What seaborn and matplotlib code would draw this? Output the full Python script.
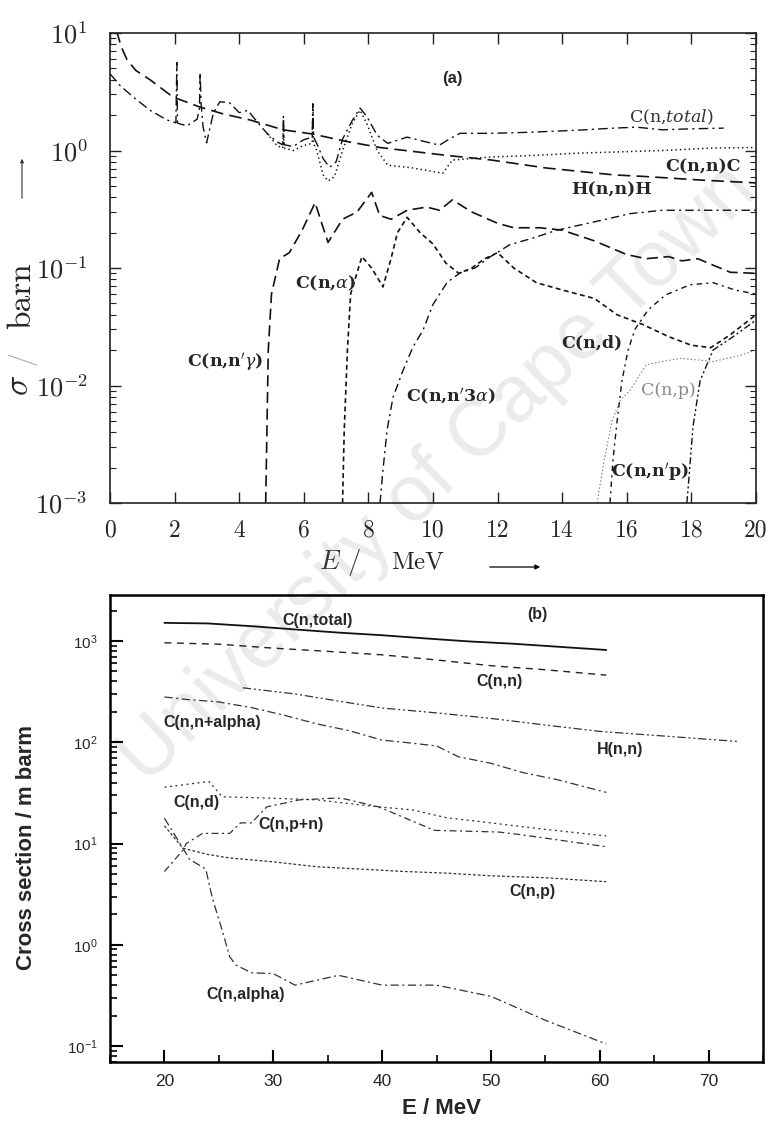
import numpy as np
import matplotlib
matplotlib.use("Agg")
import matplotlib.pyplot as plt
import seaborn as sns
from matplotlib.ticker import LogLocator, NullFormatter, NullLocator, MultipleLocator

# ---------------- panel (a): 0-20 MeV, cross sections in barn ----------------
tot_E = [0.0, 0.3, 0.72, 1.24, 1.76, 2.04, 2.07, 2.09, 2.12, 2.38, 2.7, 2.77, 2.79, 2.82,
         2.88, 2.99, 3.2, 3.4, 3.7, 4.0, 4.27, 4.43, 4.86, 5.17, 5.35, 5.37, 5.39, 5.67,
         5.98, 6.26, 6.28, 6.30, 6.4, 6.6, 6.8, 7.0, 7.2, 7.5, 7.74, 7.95, 8.27, 8.6,
         9.2, 9.7, 10.2, 10.5, 10.84, 11.8, 13.0, 14.5, 15.6, 16.3, 17.1, 18.0, 19.0]
tot_s = [4.5, 3.6, 2.85, 2.2, 1.82, 1.72, 5.6, 1.72, 1.7, 1.62, 1.85, 2.3, 4.6, 2.5,
         1.6, 1.16, 2.08, 2.6, 2.55, 2.1, 2.2, 1.93, 1.4, 1.18, 1.12, 1.95, 1.12, 1.08,
         1.23, 1.3, 2.5, 1.3, 1.15, 0.85, 0.72, 0.8, 1.25, 1.8, 2.3, 1.95, 1.35, 1.15,
         1.3, 1.2, 1.11, 1.25, 1.4, 1.4, 1.43, 1.49, 1.55, 1.58, 1.5, 1.53, 1.55]

el_E = [4.86, 5.17, 5.35, 5.37, 5.39, 5.67, 5.98, 6.26, 6.28, 6.30, 6.4, 6.6, 6.75,
        6.95, 7.2, 7.5, 7.74, 7.95, 8.27, 8.6, 9.38, 10.3, 10.6, 11.8, 13.2, 14.5,
        15.6, 17.1, 18.7, 20.0]
el_s = [1.4, 1.1, 1.05, 1.85, 1.05, 1.0, 1.1, 1.15, 2.3, 1.15, 1.0, 0.62, 0.55,
        0.6, 1.0, 1.7, 2.2, 1.7, 1.0, 0.75, 0.71, 0.64, 0.83, 0.88, 0.91, 0.95,
        0.97, 1.0, 1.05, 1.06]

hh_E = [0.2, 0.35, 0.53, 0.8, 1.24, 1.95, 2.79, 3.5, 4.33, 5.36, 6.28, 7.28, 8.36,
        10.4, 11.8, 13.5, 15.6, 16.6, 18.3, 20.0]
hh_s = [10.5, 7.6, 5.9, 4.8, 4.0, 2.85, 2.34, 2.05, 1.82, 1.5, 1.38, 1.2, 1.06,
        0.91, 0.83, 0.71, 0.62, 0.60, 0.56, 0.53]

ng_E = [4.82, 4.85, 4.9, 5.0, 5.25, 5.55, 5.95, 6.35, 6.6, 6.75, 7.2, 7.65, 8.1, 8.35,
        8.7, 9.2, 9.8, 10.2, 10.6, 11.2, 12.0, 12.5, 13.3, 14.0, 15.0, 16.0, 16.6,
        17.3, 17.7, 18.2, 18.7, 19.2, 20.0]
ng_s = [1e-3, 3e-3, 0.02, 0.06, 0.12, 0.135, 0.21, 0.36, 0.22, 0.165, 0.26, 0.30,
        0.44, 0.28, 0.26, 0.31, 0.33, 0.31, 0.38, 0.30, 0.24, 0.22, 0.22, 0.21, 0.17,
        0.13, 0.12, 0.125, 0.115, 0.12, 0.105, 0.092, 0.09]

na_E = [7.2, 7.25, 7.35, 7.45, 7.8, 8.1, 8.45, 8.7, 8.9, 9.2, 9.6, 10.0, 10.4, 10.8,
        11.2, 11.6, 12.0, 12.5, 13.2, 14.0, 15.0, 15.7, 16.5, 17.3, 18.0, 18.6, 19.2, 20.0]
na_s = [1e-3, 0.004, 0.02, 0.06, 0.125, 0.1, 0.069, 0.12, 0.2, 0.27, 0.2, 0.16, 0.11,
        0.09, 0.1, 0.12, 0.135, 0.1, 0.075, 0.065, 0.055, 0.04, 0.033, 0.026, 0.022,
        0.021, 0.027, 0.04]

n3a_E = [8.36, 8.45, 8.58, 8.76, 9.07, 9.38, 9.69, 10.0, 10.43, 10.84, 11.3, 11.76,
         12.38, 13.1, 13.84, 15.08, 16.1, 17.1, 18.5, 20.0]
n3a_s = [1e-3, 0.0019, 0.0042, 0.0079, 0.0134, 0.0213, 0.0295, 0.049, 0.075, 0.091,
         0.1, 0.124, 0.158, 0.18, 0.21, 0.25, 0.29, 0.31, 0.31, 0.31]

nd_E = [15.48, 15.57, 15.7, 15.85, 16.04, 16.25, 16.66, 17.2, 17.96, 18.67, 19.35, 20.0]
nd_s = [1e-3, 0.0023, 0.005, 0.011, 0.02, 0.03, 0.044, 0.059, 0.072, 0.075, 0.065, 0.06]

np_E = [15.08, 15.3, 15.54, 15.8, 16.1, 16.6, 17.1, 17.65, 18.2, 18.67, 19.5, 20.0]
np_s = [1e-3, 0.0023, 0.005, 0.0075, 0.0091, 0.015, 0.016, 0.017, 0.0165, 0.016,
        0.018, 0.02]

nnp_E = [17.86, 17.95, 18.05, 18.27, 18.67, 19.2, 19.6, 20.0]
nnp_s = [1e-3, 0.002, 0.0045, 0.011, 0.02, 0.025, 0.03, 0.036]

a_xticks = [0, 2, 4, 6, 8, 10, 12, 14, 16, 18, 20]
a_yticks = [1e-3, 1e-2, 1e-1, 1e0, 1e1]
a_ylabels = [r"$10^{-3}$", r"$10^{-2}$", r"$10^{-1}$", r"$10^{0}$", r"$10^{1}$"]

# ---------------- panel (b): 20-75 MeV, cross sections in mb ----------------
bt_E = [20, 24, 28, 32, 36, 40, 44, 48, 52, 56, 60.6]
bt_s = [1510, 1490, 1400, 1300, 1210, 1140, 1060, 990, 940, 880, 815]

bn_E = [20, 25, 30, 35, 40, 45, 50, 55, 60.6]
bn_s = [960, 930, 850, 790, 730, 650, 570, 520, 460]

bh_E = [27.2, 32, 36, 40, 45, 50, 55, 60, 66, 72.6]
bh_s = [345, 300, 255, 218, 195, 172, 148, 128, 115, 102]

bna_E = [20, 22, 25, 28, 31, 34, 37, 40, 42, 45, 47, 50, 53, 56, 60.6]
bna_s = [280, 265, 250, 220, 185, 152, 130, 105, 100, 92, 72, 62, 50, 43, 32]

bd_E = [20, 24.1, 25.3, 30, 34, 39.7, 42.8, 45.9, 50, 55, 60.6]
bd_s = [36, 41, 29, 28, 27, 23, 21.5, 18, 16, 13.8, 11.9]

bpn_E = [20, 21.7, 22, 23.5, 26, 27, 28, 29.4, 32.4, 35.4, 36.3, 39.7, 44.8, 50.7, 52.6, 60.6]
bpn_s = [5.3, 8.6, 10, 12.6, 12.6, 16, 16, 23, 27, 28, 28, 23, 13.5, 13, 12.3, 9.3]

bp_E = [20, 21.7, 24, 26, 30, 34, 38, 42, 46, 50, 55, 60.6]
bp_s = [15, 9, 7.8, 7.2, 6.6, 5.9, 5.6, 5.3, 5.1, 4.8, 4.6, 4.2]

bal_E = [20, 21.7, 22.3, 23.8, 24.4, 25.3, 26, 26.6, 28, 30, 32, 36, 40, 45, 50, 55, 60.6]
bal_s = [17.8, 9.0, 7.0, 5.6, 2.9, 1.4, 0.76, 0.63, 0.53, 0.52, 0.4, 0.5, 0.4, 0.4,
         0.31, 0.18, 0.105]

b_xticks = [20, 30, 40, 50, 60, 70]
b_yticks = [1e-1, 1e0, 1e1, 1e2, 1e3]
b_ylabels = [r"$10^{-1}$", r"$10^{0}$", r"$10^{1}$", r"$10^{2}$", r"$10^{3}$"]

# ---------------- style ----------------
sns.set_style("ticks")
plt.rcParams["font.family"] = ["DejaVu Serif", "DejaVu Sans"]
plt.rcParams["mathtext.fontset"] = "custom"
plt.rcParams["mathtext.rm"] = "Liberation Sans"
plt.rcParams["mathtext.it"] = "Liberation Sans:italic"
plt.rcParams["mathtext.bf"] = "Liberation Sans:bold"
plt.rcParams["lines.scale_dashes"] = False
plt.rcParams["axes.unicode_minus"] = False

W, H = 772, 1126
fig = plt.figure(figsize=(W / 100, H / 100), dpi=100)


def fx(x):
    return x / W


def fy(y):
    return 1 - y / H


# watermark sits behind both panels
fig.text(0.568, 0.578, "University of Cape Town", rotation=44, fontsize=57,
         color="#ebebeb", family="Liberation Sans", ha="center", va="center", zorder=-1)

ax_a = fig.add_axes([fx(110), fy(503), fx(756) - fx(110), fy(33) - fy(503)])
ax_b = fig.add_axes([fx(110), fy(1062), fx(763) - fx(110), fy(595) - fy(1062)])
for ax in (ax_a, ax_b):
    ax.set_facecolor("none")


def curve(ax, e, s, ls, lw=1.1, color="#111111"):
    sns.lineplot(x=e, y=s, ax=ax, color=color, linestyle=ls, linewidth=lw,
                 estimator=None, sort=False)


# ---- panel (a) curves ----
curve(ax_a, hh_E, hh_s, (0, (9, 4.5)), 1.2)
curve(ax_a, tot_E, tot_s, (0, (7, 3, 1.5, 3)), 1.0)
curve(ax_a, el_E, el_s, (0, (1, 2.2)), 1.1)
curve(ax_a, ng_E, ng_s, (0, (8, 4)), 1.2)
curve(ax_a, na_E, na_s, (0, (3.5, 2.5)), 1.2)
curve(ax_a, n3a_E, n3a_s, (0, (6, 3, 1.5, 3)), 1.0)
curve(ax_a, nd_E, nd_s, (0, (4, 3, 1.5, 3)), 1.0)
curve(ax_a, np_E, np_s, (0, (1, 1.6)), 0.8, "#777777")
curve(ax_a, nnp_E, nnp_s, (0, (5, 2, 1.5, 2, 1.5, 2)), 1.0)

ax_a.set_yscale("log")
ax_a.set_xlim(0, 20)
ax_a.set_ylim(1e-3, 10)
ax_a.set_xlabel("")
ax_a.set_ylabel("")
ax_a.set_xticks(a_xticks, labels=[str(v) for v in a_xticks], fontsize=17,
                fontfamily="cmr10")
ax_a.set_yticks(a_yticks, labels=a_ylabels, fontsize=19, math_fontfamily="cm")
ax_a.xaxis.set_minor_locator(NullLocator())
ax_a.yaxis.set_minor_locator(LogLocator(base=10, subs=np.arange(2, 10), numticks=20))
ax_a.yaxis.set_minor_formatter(NullFormatter())
ax_a.tick_params(which="both", direction="in", top=True, right=True, color="#222222")
ax_a.tick_params(which="major", length=8, width=1.0)
ax_a.tick_params(which="minor", length=4, width=0.8)
ax_a.tick_params(axis="y", pad=16)
ax_a.tick_params(axis="x", pad=12)
for sp in ax_a.spines.values():
    sp.set_linewidth(1.2)
    sp.set_color("#222222")

lab_a = dict(family="DejaVu Serif", fontsize=12.5, fontweight="bold", ha="center",
             va="center", math_fontfamily="dejavuserif")
ax_a.text(10.59, 4.14, "(a)", family="Liberation Sans", fontsize=12, fontweight="bold",
          ha="center", va="center")
ax_a.text(17.37, 1.93, r"C(n,$\mathit{total}$)", family="DejaVu Serif", fontsize=12.5,
          ha="center", va="center", math_fontfamily="dejavuserif", color="#333333")
ax_a.text(18.36, 0.72, "C(n,n)C", **lab_a)
ax_a.text(15.54, 0.46, "H(n,n)H", **lab_a)
ax_a.text(6.66, 0.0745, r"C(n,$\alpha$)", **lab_a)
ax_a.text(3.56, 0.0155, r"C(n,n$'\gamma$)", **lab_a)
ax_a.text(10.56, 0.00798, r"C(n,n$'$3$\alpha$)", **lab_a)
ax_a.text(14.92, 0.023, "C(n,d)", **lab_a)
ax_a.text(17.28, 0.0091, "C(n,p)", family="DejaVu Serif", fontsize=12.5, ha="center",
          va="center", color="#888888")
ax_a.text(16.72, 0.0018, r"C(n,n$'$p)", **lab_a)

# axis titles of panel (a)
fig.text(fx(340), fy(562), r"$E$ /", fontsize=19, fontfamily="cmr10",
         math_fontfamily="cm", ha="center", va="center", color="#333333")
fig.text(fx(418), fy(562), "MeV", fontsize=18, fontfamily="cmr10", ha="center",
         va="center")
ax_a.annotate("", xy=(fx(543), fy(567)), xytext=(fx(487), fy(567)),
              xycoords="figure fraction", textcoords="figure fraction",
              arrowprops=dict(arrowstyle="-|>", lw=0.9, color="k", mutation_scale=7))
fig.text(fx(22), fy(296), "barn", rotation=90, fontsize=24, fontfamily="cmr10",
         ha="center", va="center")
fig.text(fx(22), fy(358), "/", rotation=90, fontsize=20, fontfamily="cmr10",
         ha="center", va="center", color="#aaaaaa")
fig.text(fx(19), fy(386), r"$\sigma$", rotation=90, fontsize=24, math_fontfamily="cm",
         ha="center", va="center")
ax_a.annotate("", xy=(fx(22), fy(156)), xytext=(fx(22), fy(201)),
              xycoords="figure fraction", textcoords="figure fraction",
              arrowprops=dict(arrowstyle="-|>", lw=0.8, color="#333333", mutation_scale=5))

# ---- panel (b) curves ----
curve(ax_b, bt_E, bt_s, "-", 1.3, "#111111")
curve(ax_b, bn_E, bn_s, (0, (5, 4)), 1.0, "#222222")
curve(ax_b, bh_E, bh_s, (0, (6, 2, 1.5, 2, 1.5, 2)), 0.9, "#333333")
curve(ax_b, bna_E, bna_s, (0, (6, 2.5, 1.5, 2.5)), 0.9, "#333333")
curve(ax_b, bd_E, bd_s, (0, (1.5, 2.5)), 0.9, "#333333")
curve(ax_b, bpn_E, bpn_s, (0, (5, 2.5, 1.5, 2.5)), 0.9, "#333333")
curve(ax_b, bp_E, bp_s, (0, (2, 1.5)), 0.9, "#333333")
curve(ax_b, bal_E, bal_s, (0, (6, 2.5, 1.5, 2.5)), 0.9, "#333333")

ax_b.set_yscale("log")
ax_b.set_xlim(15, 75)
ax_b.set_ylim(0.0697, 2845)
ax_b.set_xlabel("")
ax_b.set_ylabel("")
ax_b.set_xticks(b_xticks, labels=[str(v) for v in b_xticks], fontsize=12.5,
                fontfamily="Liberation Sans")
ax_b.set_yticks(b_yticks, labels=b_ylabels, fontsize=11, math_fontfamily="custom")
ax_b.xaxis.set_minor_locator(MultipleLocator(5))
ax_b.yaxis.set_minor_locator(LogLocator(base=10, subs=np.arange(2, 10), numticks=20))
ax_b.yaxis.set_minor_formatter(NullFormatter())
ax_b.tick_params(which="both", direction="in", top=False, right=False, color="k")
ax_b.tick_params(which="major", length=9, width=1.5)
ax_b.tick_params(which="minor", length=5, width=1.2)
ax_b.tick_params(axis="y", pad=9)
ax_b.tick_params(axis="x", pad=9)
for sp in ax_b.spines.values():
    sp.set_linewidth(1.8)
    sp.set_color("k")

lab_b = dict(family="Liberation Sans", fontsize=11.5, fontweight="bold", ha="center",
             va="center")
ax_b.text(54.3, 1807, "(b)", **lab_b)
ax_b.text(34.1, 1611, "C(n,total)", **lab_b)
ax_b.text(50.8, 394, "C(n,n)", **lab_b)
ax_b.text(24.4, 158, "C(n,n+alpha)", **lab_b)
ax_b.text(61.9, 84, "H(n,n)", **lab_b)
ax_b.text(22.9, 25.7, "C(n,d)", **lab_b)
ax_b.text(31.65, 15.3, "C(n,p+n)", **lab_b)
ax_b.text(53.8, 3.33, "C(n,p)", **lab_b)
ax_b.text(27.5, 0.32, "C(n,alpha)", **lab_b)

fig.text(fx(27), fy(848), "Cross section / m barm", rotation=90, fontsize=16,
         fontweight="bold", family="Liberation Sans", ha="center", va="center")
fig.text(fx(441), fy(1108), "E / MeV", fontsize=16, fontweight="bold",
         family="Liberation Sans", ha="center", va="center")

fig.savefig("out.png", dpi=100)
